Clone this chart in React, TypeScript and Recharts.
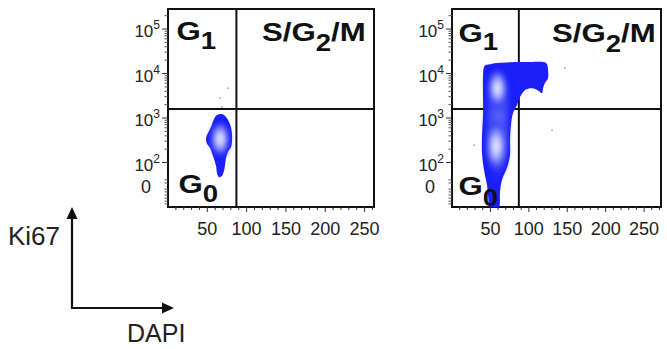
import React from 'react';
import { ScatterChart, Scatter, XAxis, YAxis, ReferenceLine, ReferenceArea } from 'recharts';

// Ki67 axis is in decades (log10); "0" sits in the linear zone below 10^2
// all blobs are [DAPI, log10 Ki67] outlines

const gateDapi = 87;
const gateKi67 = 3.2;

const yMajorTicks = [1.45, 2, 3, 4, 5];
const yMajorLabels = ['0', '2', '3', '4', '5'];
const yMinorTicks = [
  1.07, 1.13, 1.2, 1.27, 1.34, 1.4, 1.54, 1.61,
  2.3, 2.48, 2.6, 2.7, 2.78, 2.85, 2.9, 2.95,
  3.3, 3.48, 3.6, 3.7, 3.78, 3.85, 3.9, 3.95,
  4.3, 4.48, 4.6, 4.7, 4.78, 4.85, 4.9, 4.95,
  5.3,
];
const xLabelTicks = [50, 100, 150, 200, 250];
const xTicksLeft = [10, 20, 30, 40, 50, 60, 70, 80, 90, 100, 110, 120, 130, 140, 150, 160, 170, 180, 190, 200, 210, 220, 230, 240, 250, 260];
const xTicksRight = [10, 20, 30, 40, 50, 60, 70, 80, 90, 100, 110, 120, 130, 140, 150, 160, 170, 180, 190, 200, 210, 220, 230, 240, 250, 260, 270];

// left: resting cells (G0 only)
const leftOuter = [
  [62.3, 3.07], [68.7, 3.09], [73.8, 3.02], [77.6, 2.91], [80.2, 2.78], [81.4, 2.64],
  [81.4, 2.48], [80.2, 2.35], [76.3, 2.24], [73.8, 2.1], [72.5, 1.94], [71.2, 1.81],
  [68.7, 1.7], [64.9, 1.67], [62.3, 1.76], [61.1, 1.92], [58.5, 2.08], [56.0, 2.21],
  [53.4, 2.33], [49.6, 2.42], [48.3, 2.53], [49.6, 2.62], [52.2, 2.71], [54.7, 2.8],
  [57.3, 2.93], [59.8, 3.02],
];
const leftCore = [
  [58.5, 2.84], [71.2, 2.91], [77.6, 2.69], [77.6, 2.35], [71.2, 2.15], [61.1, 2.19],
  [54.7, 2.39], [54.7, 2.69],
];
const leftDots = [[76.3, 3.67], [66.2, 3.45], [68.7, 3.25]];

// right: cycling cells
const rightOuter = [
  [41.7, 4.15], [49.5, 4.21], [62.5, 4.24], [82.0, 4.26], [101.6, 4.26], [118.5, 4.26],
  [123.7, 4.21], [125.0, 4.08], [125.0, 3.9], [121.1, 3.79], [118.5, 3.67], [117.2, 3.56],
  [112.0, 3.62], [104.2, 3.67], [95.1, 3.63], [88.5, 3.47], [84.6, 3.29], [79.4, 3.11],
  [76.8, 2.84], [75.5, 2.51], [75.5, 2.17], [71.6, 1.88], [65.1, 1.61], [62.5, 1.34],
  [61.2, 1.0], [49.5, 1.0], [46.9, 1.27], [45.6, 1.49], [41.7, 1.83], [39.1, 2.21],
  [39.1, 2.62], [40.4, 3.07], [40.4, 3.52], [40.4, 3.85],
];
const rightMid = [
  [44.3, 3.97], [69.0, 4.08], [78.1, 3.63], [72.9, 3.07], [71.6, 2.28], [66.4, 1.83],
  [56.0, 1.56], [46.9, 1.79], [44.3, 2.51], [44.3, 3.4],
];
const rightCoreTop = [
  [49.5, 4.03], [62.5, 4.08], [70.3, 3.85], [71.6, 3.52], [66.4, 3.29], [56.0, 3.25],
  [48.2, 3.45], [46.9, 3.81],
];
const rightCoreLow = [
  [46.9, 2.84], [62.5, 2.91], [70.3, 2.62], [70.3, 2.17], [65.1, 1.88], [52.1, 1.83],
  [45.6, 2.1], [44.3, 2.55],
];
const rightDots = [[147.1, 4.12], [130.2, 2.73], [28.6, 2.39]];

const FONT = "'Liberation Sans', Arial, Helvetica, sans-serif";
const BLUE = '#1b20f6';

const toRows = (pts: number[][]) => pts.map(([dapi, ki67]) => ({ dapi, ki67 }));

// closed catmull-rom outline through the points the scatter has already scaled
const blob = (fill: string, soft?: boolean) => (p: any) => {
  const pts = p.points || [];
  if (pts.length < 3) return <g />;
  const n = pts.length;
  const at = (i: number) => pts[(i + n) % n];
  let d = `M${pts[0].x},${pts[0].y}`;
  for (let i = 0; i < n; i++) {
    const p0 = at(i - 1), p1 = at(i), p2 = at(i + 1), p3 = at(i + 2);
    const c1x = p1.x + (p2.x - p0.x) / 6, c1y = p1.y + (p2.y - p0.y) / 6;
    const c2x = p2.x - (p3.x - p1.x) / 6, c2y = p2.y - (p3.y - p1.y) / 6;
    d += ` C${c1x},${c1y} ${c2x},${c2y} ${p2.x},${p2.y}`;
  }
  return <path d={d + 'Z'} fill={fill} stroke="none" filter={soft ? 'url(#soft)' : undefined} />;
};

const NoShape = () => <g />;
const Dot = (p: any) => <circle cx={p.cx} cy={p.cy} r={0.9} fill="#a8a8a8" />;

const XTick = (props: any) => {
  const { x, y, payload } = props;
  const major = xLabelTicks.includes(payload.value);
  return (
    <g>
      <line x1={x} x2={x} y1={y} y2={y + (major ? 5 : 3)} stroke="#333" strokeWidth={1} />
      {major && (
        <text x={x} y={y + 28} textAnchor="middle" fontSize={18} fill="#222" fontFamily={FONT}>
          {payload.value}
        </text>
      )}
    </g>
  );
};

const YTick = (props: any) => {
  const { x, y, payload } = props;
  const idx = yMajorTicks.indexOf(payload.value);
  if (idx < 0) {
    return <line x1={x - 3.5} x2={x} y1={y} y2={y} stroke="#555" strokeWidth={1} />;
  }
  if (yMajorLabels[idx] === '0') {
    return (
      <text x={x - 17} y={y + 6} textAnchor="end" fontSize={18} fill="#222" fontFamily={FONT}>0</text>
    );
  }
  return (
    <g>
      <line x1={x - 6} x2={x} y1={y} y2={y} stroke="#333" strokeWidth={1} />
      <text x={x - 8} y={y + 8} textAnchor="end" fontSize={17} fill="#222" fontFamily={FONT}>
        10<tspan dy={-8} fontSize={12}>{yMajorLabels[idx]}</tspan>
      </text>
    </g>
  );
};

interface PanelProps {
  left: number;
  width: number;
  marginRight: number;
  xMax: number;
  xTicks: number[];
  layers: { pts: number[][]; fill: string; soft?: boolean }[];
  dots: number[][];
}

function Panel({ left, width, marginRight, xMax, xTicks, layers, dots }: PanelProps) {
  return (
    <div style={{ position: 'absolute', left, top: 0 }}>
      <ScatterChart width={width} height={250} margin={{ top: 9, right: marginRight, bottom: 13, left: 28 }}>
        <XAxis
          type="number"
          dataKey="dapi"
          domain={[0, xMax]}
          allowDataOverflow
          ticks={xTicks}
          interval={0}
          tick={<XTick />}
          tickLine={false}
          axisLine={false}
          tickSize={0}
          tickMargin={0}
          height={30}
        />
        <YAxis
          type="number"
          dataKey="ki67"
          domain={[1.0, 5.45]}
          allowDataOverflow
          ticks={[...yMajorTicks, ...yMinorTicks]}
          interval={0}
          tick={<YTick />}
          tickLine={false}
          axisLine={false}
          tickSize={0}
          tickMargin={0}
          width={40}
        />
        {layers.map((l, i) => (
          <Scatter
            key={i}
            data={toRows(l.pts)}
            shape={NoShape}
            line={blob(l.fill, l.soft)}
            isAnimationActive={false}
          />
        ))}
        <Scatter data={toRows(dots)} shape={Dot} isAnimationActive={false} />
        <ReferenceLine x={gateDapi} stroke="#111" strokeWidth={2} />
        <ReferenceLine y={gateKi67} stroke="#111" strokeWidth={2} />
        <ReferenceArea x1={0} x2={xMax} y1={1.0} y2={5.45} fill="none" stroke="#111" strokeWidth={2} fillOpacity={0} />
      </ScatterChart>
    </div>
  );
}

// quadrant name with subscript, stretched like the original lettering
function Quad({ x, y, main, sub, tail, dy }: { x: number; y: number; main: string; sub: string; tail?: string; dy: number }) {
  return (
    <g transform={`translate(${x},${y}) scale(1.2,1)`}>
      <text x={0} y={0} fontSize={26} fontWeight="bold" fill="#111" fontFamily={FONT}>
        {main}
        <tspan dy={dy} fontSize={23}>{sub}</tspan>
        {tail && <tspan dy={-dy} fontSize={26}>{tail}</tspan>}
      </text>
    </g>
  );
}

export default function App() {
  return (
    <div style={{ position: 'absolute', left: 0, top: 0, width: 667, height: 349, background: '#fff', overflow: 'hidden' }}>
      <svg width={0} height={0} style={{ position: 'absolute' }}>
        <defs>
          <radialGradient id="core">
            <stop offset="0%" stopColor="#f6f7ff" />
            <stop offset="35%" stopColor="#c3c8fd" />
            <stop offset="75%" stopColor="#5862f8" />
            <stop offset="100%" stopColor={BLUE} stopOpacity={0.6} />
          </radialGradient>
          <radialGradient id="mid">
            <stop offset="0%" stopColor="#5f6af9" />
            <stop offset="70%" stopColor="#3a44f7" />
            <stop offset="100%" stopColor={BLUE} stopOpacity={0.5} />
          </radialGradient>
          <filter id="soft" x="-60%" y="-60%" width="220%" height="220%">
            <feGaussianBlur stdDeviation="2.5" />
          </filter>
        </defs>
      </svg>
      <Panel
        left={100}
        width={290}
        marginRight={16}
        xMax={262}
        xTicks={xTicksLeft}
        layers={[
          { pts: leftOuter, fill: BLUE },
          { pts: leftCore, fill: 'url(#core)', soft: true },
        ]}
        dots={leftDots}
      />
      <Panel
        left={384}
        width={283}
        marginRight={6}
        xMax={272}
        xTicks={xTicksRight}
        layers={[
          { pts: rightOuter, fill: BLUE },
          { pts: rightMid, fill: 'url(#mid)', soft: true },
          { pts: rightCoreTop, fill: 'url(#core)', soft: true },
          { pts: rightCoreLow, fill: 'url(#core)', soft: true },
        ]}
        dots={rightDots}
      />
      <svg width={667} height={349} style={{ position: 'absolute', left: 0, top: 0, pointerEvents: 'none' }}>
        <Quad x={176.5} y={40} main="G" sub="1" dy={9} />
        <Quad x={262} y={41} main="S/G" sub="2" tail="/M" dy={10} />
        <Quad x={178.5} y={193} main="G" sub="0" dy={9} />
        <Quad x={458.5} y={42} main="G" sub="1" dy={8} />
        <Quad x={552} y={42} main="S/G" sub="2" tail="/M" dy={10} />
        <Quad x={458.5} y={195} main="G" sub="0" dy={11} />

        <path d="M72,218 L72,308 L163,308" fill="none" stroke="#111" strokeWidth={2.2} />
        <polygon points="72,207 66.5,219 77.5,219" fill="#111" />
        <polygon points="174,308 162,302.5 162,313.5" fill="#111" />
        <text x={8} y={245} fontSize={26} fill="#222" fontFamily={FONT}>Ki67</text>
        <text x={127} y={342} fontSize={25} fill="#222" fontFamily={FONT}>DAPI</text>
      </svg>
    </div>
  );
}
